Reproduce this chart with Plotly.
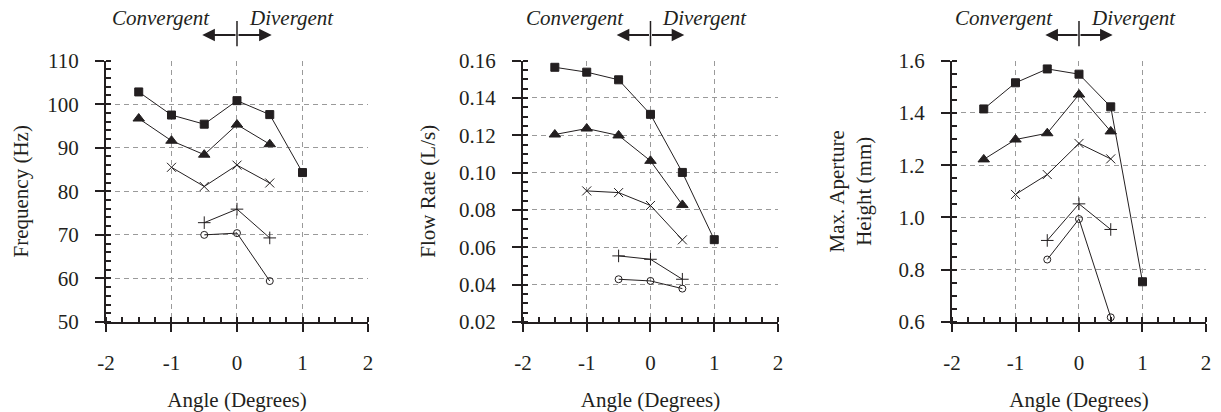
import plotly.graph_objects as go

angles = [-1.5, -1.0, -0.5, 0.0, 0.5, 1.0]

# Frequency (Hz)
freq_sq = [102.8, 97.5, 95.4, 100.8, 97.6, 84.3]
freq_tri = [96.7, 91.6, 88.4, 95.3, 90.8, None]
freq_x = [None, 85.5, 81.1, 86.0, 81.9, None]
freq_plus = [None, None, 72.8, 75.9, 69.3, None]
freq_circ = [None, None, 70.0, 70.4, 59.4, None]

# Flow rate (L/s)
flow_sq = [0.1564, 0.1538, 0.1497, 0.1312, 0.1001, 0.0641]
flow_tri = [0.1204, 0.1236, 0.1199, 0.1063, 0.0827, None]
flow_x = [None, 0.0902, 0.0893, 0.0824, 0.0640, None]
flow_plus = [None, None, 0.0554, 0.0536, 0.0429, None]
flow_circ = [None, None, 0.0429, 0.0420, 0.0379, None]

# Max aperture height (mm)
ap_sq = [1.415, 1.515, 1.568, 1.548, 1.423, 0.754]
ap_tri = [1.222, 1.298, 1.322, 1.470, 1.329, None]
ap_x = [None, 1.088, 1.164, 1.283, 1.224, None]
ap_plus = [None, None, 0.912, 1.052, 0.954, None]
ap_circ = [None, None, 0.839, 0.994, 0.618, None]

y_titles = ["Frequency (Hz)", "Flow Rate (L/s)", "Max. Aperture<br>Height (mm)"]
y_ranges = [(50, 110), (0.02, 0.16), (0.6, 1.6)]
y_dticks = [10, 0.02, 0.2]
y_minor = [2, 0.005, 0.05]
y_fmt = ["d", ".2f", ".1f"]
x_range = (-2, 2)
x_tickvals = [-2, -1, 0, 1, 2]
x_ticktext = ["-2", "-1", "0", "1", "2"]
x_title = "Angle (Degrees)"
label_conv = "Convergent"
label_div = "Divergent"

panels = [
    [freq_sq, freq_tri, freq_x, freq_plus, freq_circ],
    [flow_sq, flow_tri, flow_x, flow_plus, flow_circ],
    [ap_sq, ap_tri, ap_x, ap_plus, ap_circ],
]
symbols = ["square", "triangle-up", "x-thin-open", "cross-thin-open", "circle-open"]
sizes = [8, 10, 9, 9, 7]

INK = "#231f20"
FONT = "Liberation Serif"
FS = 21
x_domains = [(0.0868, 0.3014), (0.4283, 0.6372), (0.7797, 0.9877)]
y_domain = (0.2184, 0.853)
title_standoffs = [13, 18, 21]

fig = go.Figure()
layout = {}
for i, series in enumerate(panels):
    n = i + 1
    xa = "x" if n == 1 else f"x{n}"
    ya = "y" if n == 1 else f"y{n}"
    for vals, sym, sz in zip(series, symbols, sizes):
        xs = [a for a, v in zip(angles, vals) if v is not None]
        ys = [v for v in vals if v is not None]
        fig.add_trace(go.Scatter(
            x=xs, y=ys, xaxis=xa, yaxis=ya, mode="lines+markers",
            line=dict(color=INK, width=1),
            marker=dict(symbol=sym, size=sz, color=INK,
                        line=dict(color=INK, width=1)),
            showlegend=False, hoverinfo="skip"))
    key_x = "xaxis" if n == 1 else f"xaxis{n}"
    key_y = "yaxis" if n == 1 else f"yaxis{n}"
    layout[key_x] = dict(
        domain=x_domains[i], anchor=ya, range=list(x_range),
        tickmode="array", tickvals=x_tickvals, ticktext=x_ticktext,
        showline=True, linecolor=INK, linewidth=2, automargin=False,
        ticks="outside", ticklen=8, tickwidth=2, tickcolor=INK,
        ticklabelstandoff=13,
        showgrid=True, gridcolor="#9a9a9a", griddash="5px,4px", gridwidth=1,
        zeroline=False, fixedrange=True,
        minor=dict(ticks="inside", dtick=0.25, ticklen=5, tickwidth=1.5,
                   tickcolor=INK, showgrid=False),
        tickfont=dict(family=FONT, size=FS, color=INK),
        title=dict(text=x_title, font=dict(family=FONT, size=FS, color=INK),
                   standoff=23),
    )
    layout[key_y] = dict(
        domain=y_domain, anchor=xa, range=list(y_ranges[i]), dtick=y_dticks[i],
        tickformat=y_fmt[i], showline=True, linecolor=INK, linewidth=2,
        automargin=False,
        ticks="outside", ticklen=9, tickwidth=2, tickcolor=INK,
        ticklabelstandoff=12,
        showgrid=True, gridcolor="#9a9a9a", griddash="5px,4px", gridwidth=1,
        zeroline=False, fixedrange=True,
        minor=dict(ticks="inside", dtick=y_minor[i], ticklen=5, tickwidth=1.5,
                   tickcolor=INK, showgrid=False),
        tickfont=dict(family=FONT, size=FS, color=INK),
        title=dict(text=y_titles[i], font=dict(family=FONT, size=FS, color=INK),
                   standoff=title_standoffs[i]),
    )
    # overlay axes to make the major ticks cross the axis lines
    ox = f"xaxis{n + 3}"
    oy = f"yaxis{n + 3}"
    layout[ox] = dict(overlaying=xa, anchor=ya, range=list(x_range), dtick=1,
                      ticks="inside", ticklen=5, tickwidth=2, tickcolor=INK,
                      showticklabels=False, showgrid=False, showline=False,
                      zeroline=False, fixedrange=True, automargin=False)
    layout[oy] = dict(overlaying=ya, anchor=xa, range=list(y_ranges[i]),
                      dtick=y_dticks[i], ticks="inside", ticklen=5, tickwidth=2,
                      tickcolor=INK, showticklabels=False, showgrid=False,
                      showline=False, zeroline=False, fixedrange=True,
                      automargin=False)
    fig.add_trace(go.Scatter(x=[None], y=[None], xaxis=f"x{n + 3}", yaxis=f"y{n + 3}",
                             showlegend=False, hoverinfo="skip"))

    # Convergent / Divergent indicator
    fig.add_shape(type="line", xref=xa, yref="paper", x0=0, x1=0,
                  y0=0.888, y1=0.949, line=dict(color=INK, width=1.5))
    for ax_off in (0.53, -0.53):
        fig.add_annotation(x=ax_off, y=0.915, xref=xa, yref="paper",
                           ax=0, ay=0, axref=xa, ayref="pixel",
                           showarrow=True, arrowhead=2, arrowsize=1.4,
                           arrowwidth=1.8, arrowcolor=INK, text="")
    fig.add_annotation(x=-0.38, y=0.956, xref=xa, yref="paper", text=label_conv,
                       showarrow=False, xanchor="right", yanchor="middle",
                       font=dict(family=FONT, size=FS, color=INK, style="italic"))
    fig.add_annotation(x=0.15, y=0.956, xref=xa, yref="paper", text=label_div,
                       showarrow=False, xanchor="left", yanchor="middle",
                       font=dict(family=FONT, size=FS, color=INK, style="italic"))

fig.update_layout(
    template="none",
    width=1221, height=412, margin=dict(l=0, r=0, t=0, b=0, autoexpand=False),
    paper_bgcolor="white", plot_bgcolor="white", showlegend=False,
    font=dict(family=FONT, color=INK),
    **layout,
)
fig.write_html("out.html")
